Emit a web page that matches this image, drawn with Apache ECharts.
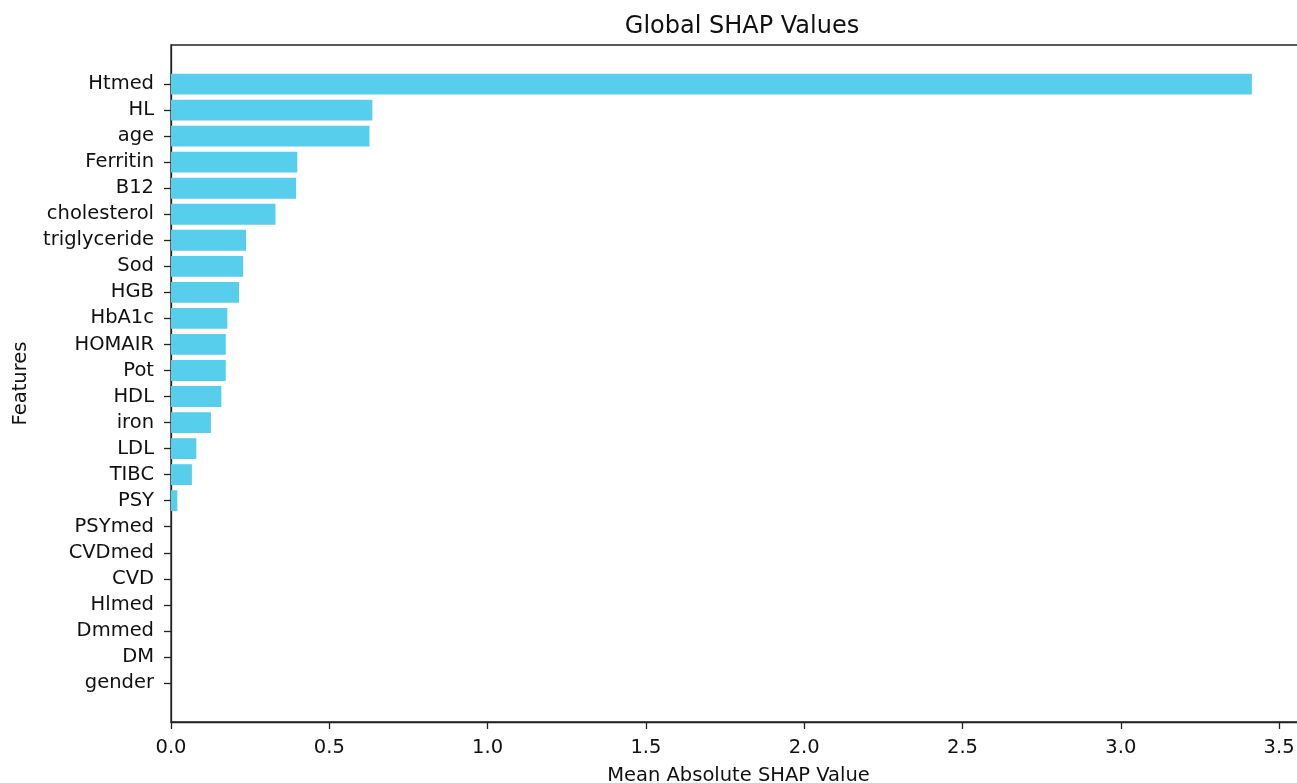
<!DOCTYPE html>
<html>
<head>
<meta charset="utf-8">
<script src="https://cdn.jsdelivr.net/npm/echarts@6/dist/echarts.min.js"></script>
<style>
  html, body { margin: 0; padding: 0; background: #fff; }
  #main { width: 1297px; height: 783px; }
</style>
</head>
<body>
<div id="main"></div>
<script>
// features, top to bottom
var features = ['Htmed', 'HL', 'age', 'Ferritin', 'B12', 'cholesterol', 'triglyceride', 'Sod',
  'HGB', 'HbA1c', 'HOMAIR', 'Pot', 'HDL', 'iron', 'LDL', 'TIBC', 'PSY', 'PSYmed', 'CVDmed',
  'CVD', 'Hlmed', 'Dmmed', 'DM', 'gender'];
// mean |SHAP| per feature
var shapValues = [3.414, 0.636, 0.627, 0.399, 0.395, 0.330, 0.237, 0.228,
  0.215, 0.178, 0.173, 0.173, 0.159, 0.126, 0.080, 0.066, 0.020, 0, 0,
  0, 0, 0, 0, 0];
var xMax = 3.585;

// blank slot at each end gives the same margin matplotlib leaves
var cats = [''].concat(features, ['']);
var vals = [null].concat(shapValues, [null]);

var chart = echarts.init(document.getElementById('main'));
var font = 'DejaVu Sans';
var option = {
  backgroundColor: '#fff',
  animation: false,
  title: {
    text: 'Global SHAP Values',
    left: 737,
    textAlign: 'center',
    top: 10,
    textStyle: { fontFamily: font, fontSize: 24, fontWeight: 'normal', color: '#111' }
  },
  grid: {
    left: 171,
    width: 1135,
    top: 45,
    height: 677,
    outerBoundsMode: 'none',
    containLabel: false,
    show: true,
    borderColor: '#222',
    borderWidth: 1.3
  },
  xAxis: {
    type: 'value',
    min: 0,
    max: xMax,
    interval: 0.5,
    name: 'Mean Absolute SHAP Value',
    nameLocation: 'middle',
    nameGap: 44,
    nameTextStyle: { fontFamily: font, fontSize: 19.5, color: '#111' },
    splitLine: { show: false },
    axisLine: { show: true, lineStyle: { color: '#222', width: 1.3 } },
    axisTick: { show: true, length: 7, lineStyle: { color: '#222', width: 1.3 } },
    axisLabel: {
      fontFamily: font, fontSize: 19.5, color: '#111', margin: 16,
      showMaxLabel: false,
      formatter: function (v) { return v.toFixed(1); }
    }
  },
  yAxis: {
    type: 'category',
    data: cats,
    inverse: true,
    name: 'Features',
    nameLocation: 'middle',
    nameGap: 140,
    nameTextStyle: { fontFamily: font, fontSize: 19.5, color: '#111' },
    axisLine: { show: true, lineStyle: { color: '#222', width: 1.3 } },
    axisTick: {
      show: true, alignWithLabel: true, length: 7,
      interval: function (i, v) { return v !== ''; },
      lineStyle: { color: '#222', width: 1.3 }
    },
    axisLabel: { interval: 0, fontFamily: font, fontSize: 19.5, color: '#111', margin: 17 }
  },
  series: [{
    type: 'bar',
    data: vals,
    barWidth: '80%',
    itemStyle: { color: '#56CEEC' }
  }]
};
chart.setOption(option);
</script>
</body>
</html>
